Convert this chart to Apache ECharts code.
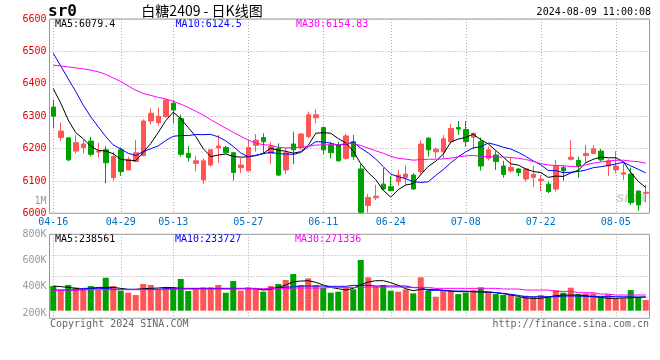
<!DOCTYPE html>
<html><head><meta charset="utf-8">
<script src="https://cdn.jsdelivr.net/npm/echarts@6/dist/echarts.min.js"></script>
<style>html,body{margin:0;padding:0;background:#fff}#c{width:660px;height:360px}</style>
</head><body><div id="c"></div>
<script>
const dates = ['04-16','04-17','04-18','04-19','04-22','04-23','04-24','04-25','04-26','04-29','04-30',
'05-06','05-07','05-08','05-09','05-10','05-13','05-14','05-15','05-16','05-17','05-20','05-21','05-22','05-23','05-24','05-27','05-28','05-29','05-30','05-31',
'06-03','06-04','06-05','06-06','06-07','06-11','06-12','06-13','06-14','06-17','06-18','06-19','06-20','06-21','06-24','06-25','06-26','06-27','06-28',
'07-01','07-02','07-03','07-04','07-05','07-08','07-09','07-10','07-11','07-12','07-15','07-16','07-17','07-18','07-19','07-22','07-23','07-24','07-25','07-26','07-29','07-30','07-31',
'08-01','08-02','08-05','08-06','08-07','08-08','08-09'];
const tickLabels = ['04-16','04-29','05-13','05-27','06-11','06-24','07-08','07-22','08-05'];

const open = [6328,6234,6233,6192,6203,6223,6189,6196,6110,6196,
6134,6160,6178,6285,6280,6298,6340,6293,6185,6154,
6103,6149,6202,6203,6187,6141,6131,6210,6234,6185,
6201,6134,6214,6203,6237,6295,6265,6211,6211,6170,
6221,6137,6024,6048,6090,6082,6098,6110,6118,6129,
6232,6190,6190,6221,6265,6259,6235,6221,6170,6180,
6146,6131,6137,6106,6111,6101,6090,6075,6141,6167,
6163,6178,6185,6192,6146,6134,6121,6121,6069,6062];
const close = [6300,6254,6165,6218,6214,6182,6192,6156,6175,6129,
6167,6187,6285,6309,6300,6350,6319,6182,6172,6162,
6162,6196,6208,6187,6126,6149,6203,6226,6221,6206,
6118,6187,6196,6245,6304,6304,6196,6187,6162,6239,
6175,6003,6049,6053,6075,6070,6118,6121,6075,6214,
6196,6198,6230,6262,6260,6222,6247,6146,6196,6160,
6120,6142,6126,6137,6120,6105,6067,6146,6131,6173,
6146,6185,6199,6165,6162,6146,6125,6033,6026,6065];
const low = [6262,6224,6161,6185,6185,6175,6172,6093,6101,6116,
6133,6158,6176,6275,6270,6296,6278,6175,6160,6129,
6090,6144,6156,6185,6101,6124,6130,6190,6185,6152,
6115,6121,6152,6196,6232,6278,6182,6170,6160,6165,
6165,6000,6002,6041,6071,6068,6085,6086,6072,6118,
6175,6170,6170,6216,6242,6206,6196,6132,6163,6134,
6110,6126,6115,6098,6082,6069,6062,6067,6101,6163,
6110,6156,6183,6160,6115,6124,6103,6026,6008,6034];
const high = [6350,6280,6234,6242,6226,6236,6218,6208,6190,6204,
6175,6226,6290,6324,6327,6352,6350,6304,6208,6178,
6170,6198,6242,6208,6188,6170,6226,6244,6247,6219,
6216,6201,6252,6247,6314,6321,6268,6221,6221,6245,
6242,6152,6060,6088,6140,6115,6134,6148,6124,6226,
6235,6204,6242,6276,6285,6285,6250,6234,6206,6192,
6162,6172,6139,6139,6146,6118,6098,6165,6149,6226,
6175,6211,6211,6199,6167,6192,6154,6141,6069,6088];

const ma5 = [6385,6340,6288,6249,6230.2,6206.6,6194.2,6192.4,6183.8,6166.8,
6163.8,6162.8,6188.6,6215.4,6249.6,6286.2,6312.6,6292,6264.6,6237,
6199.4,6174.8,6180,6183,6175.8,6173.2,6174.6,6178.2,6185,6201,
6194.8,6191.6,6185.6,6190.4,6210,6247.2,6249,6247.2,6230.6,6217.6,
6191.8,6153.2,6125.6,6103.8,6071,6050,6073,6087.4,6091.8,6119.6,
6144.8,6160.8,6182.6,6220,6229.2,6234.4,6244.2,6227.4,6214.2,6194.2,
6173.8,6152.8,6148.8,6137,6129,6126,6111,6115,6113.8,6124.4,
6132.6,6156.2,6166.8,6173.6,6171.4,6171.4,6159.4,6126.2,6098.4,6079.4];
const ma10 = [6494,6455,6415,6376,6334,6298,6267,6237,6211,6198.5,
6185.2,6178.5,6190.5,6199.6,6208.2,6225,6237.7,6240.3,6240,6243.3,
6242.8,6243.7,6236,6223.8,6206.4,6186.3,6174.7,6179.1,6184,6188.4,
6184,6183.1,6181.9,6187.7,6205.5,6221,6220.3,6216.4,6210.5,6213.8,
6219.5,6201.1,6186.4,6167.2,6144.3,6120.9,6113.1,6106.5,6097.8,6095.3,
6097.4,6116.9,6135,6155.9,6174.4,6189.6,6202.5,6205,6217.1,6211.7,
6204.1,6198.5,6188.1,6175.6,6161.6,6149.9,6131.9,6131.9,6125.4,6126.7,
6129.3,6133.6,6140.9,6143.7,6147.9,6152,6157.8,6146.5,6136,6124.5];
const ma30 = [6457,6455,6452,6449,6446,6442,6437,6429,6418,6407,
6393,6380,6370,6364,6358,6353,6346,6337,6327,6315,
6303,6289,6276,6263,6250,6238,6226,6217,6212,6210.1,
6204,6201.8,6202.8,6203.7,6206.7,6210.8,6210.9,6211.9,6211.5,6215.2,
6215.4,6209.3,6201.4,6192.9,6185.4,6176.1,6169.4,6167.3,6164.1,6165.8,
6167,6167,6167.8,6170.3,6174.7,6177.2,6178.6,6176,6175.1,6173.6,
6173.7,6172.2,6169.8,6166.2,6160.1,6153.5,6149.2,6147.8,6146.8,6144.6,
6143.6,6149.7,6154.7,6158.4,6161.3,6163.8,6164.1,6161.1,6159.5,6154.83];

const volume = [425,356,443,402,368,425,356,569,425,345,
310,270,460,443,368,402,402,546,339,385,
402,402,443,310,511,345,402,385,328,425,
460,529,632,443,557,443,397,310,328,402,
368,874,575,425,443,345,328,368,299,575,
345,241,345,345,287,310,356,402,310,287,
270,270,230,259,241,270,241,356,310,397,
287,299,299,241,282,213,213,356,230,184].map(v => v * 1000);
const volMa5 = [425,415,402,385,368,385,402,402,402,385,
368,368,379,385,391,402,397,385,385,385,
385,385,385,385,385,385,385,385,356,368,
402,443,500,511,517,489,443,402,379,356,
385,448,494,517,517,483,437,379,345,368,
368,368,351,339,328,328,328,322,316,310,
293,270,247,218,213,213,236,259,270,270,
270,259,241,230,213,213,218,224,230,238.561].map(v => v * 1000);
const volMa10 = [356,356,356,356,385,385,385,385,368,368,
368,368,368,368,368,379,379,379,379,379,
379,379,379,379,379,379,379,379,368,391,
391,408,408,425,425,425,425,420,420,420,
437,437,437,425,425,425,425,425,397,397,
351,351,351,339,339,339,328,328,328,310,
299,282,264,241,241,241,241,241,253,253,
253,247,247,247,247,241,241,238,236,233.727].map(v => v * 1000);
const volMa30 = [345,356,356,356,356,362,362,362,362,362,
362,362,362,362,362,362,374,374,374,374,
374,374,374,374,374,379,379,379,379,379,
379,379,391,391,391,391,391,402,402,402,
402,402,408,408,408,408,408,402,402,402,
402,385,385,385,385,385,385,385,385,385,
374,374,374,356,356,356,356,333,333,333,
310,310,310,287,287,270,270,270,270,271.336].map(v => v * 1000);

const priceTicks = {min: 6000, max: 6600, step: 100};
const volTickLabels = [200000, 400000, 600000, 800000];
const maTexts = ['MA5:6079.4', 'MA10:6124.5', 'MA30:6154.83'];
const volMaTexts = ['MA5:238561', 'MA10:233727', 'MA30:271336'];

const RED = '#FF5555', GREEN = '#00A000';
const MONO = '"DejaVu Sans Mono", monospace';
const dotted = {color: '#aaa', width: 1, type: [1, 2]};
const showTick = (i, v) => tickLabels.indexOf(v) >= 0;

const chart = echarts.init(document.getElementById('c'), null, {renderer: 'canvas'});
const gridBase = {left: 49.5, right: 10.5, show: true, borderColor: '#999', borderWidth: 1, containLabel: false, outerBoundsMode: 'none'};

function mkLine(name, data, color, xi, yi) {
  return {name, type: 'line', data, xAxisIndex: xi, yAxisIndex: yi, symbol: 'none', silent: true,
    lineStyle: {color, width: 1}, itemStyle: {color}, z: 5, animation: false};
}

chart.setOption({
  animation: false,
  backgroundColor: '#fff',
  grid: [
    Object.assign({top: 19, height: 194.3}, gridBase),
    Object.assign({top: 234.3, height: 84}, gridBase)
  ],
  xAxis: [
    {type: 'category', gridIndex: 0, data: dates, boundaryGap: true,
     axisLine: {show: false}, axisTick: {show: false},
     axisLabel: {interval: showTick, color: '#0070C0', fontFamily: MONO, fontSize: 10, margin: 4},
     splitLine: {show: true, interval: showTick, alignWithLabel: true, lineStyle: dotted}},
    {type: 'category', gridIndex: 1, data: dates, boundaryGap: true,
     axisLine: {show: false}, axisTick: {show: false}, axisLabel: {show: false},
     splitLine: {show: true, interval: showTick, alignWithLabel: true, lineStyle: dotted}}
  ],
  yAxis: [
    {type: 'value', gridIndex: 0, position: 'left', min: priceTicks.min, max: priceTicks.max, interval: priceTicks.step,
     axisLine: {show: false}, axisTick: {show: false},
     axisLabel: {formatter: v => String(v), color: '#E00000', fontFamily: MONO, fontSize: 10, margin: 3, padding: [0, 0, 4, 0]},
     splitLine: {show: true, lineStyle: dotted}},
    {type: 'value', gridIndex: 1, position: 'right', min: 0, max: 4, interval: 1,
     axisLine: {show: false}, axisTick: {show: false}, axisLabel: {show: false},
     splitLine: {show: true, lineStyle: dotted}},
    {type: 'value', gridIndex: 1, position: 'left', offset: 0, min: 160000, max: 800000,
     axisLine: {show: false}, axisTick: {show: false}, splitLine: {show: false},
     axisLabel: {customValues: volTickLabels, showMinLabel: true, showMaxLabel: true,
       formatter: v => (v / 1000) + 'K', color: '#999', fontFamily: MONO, fontSize: 10, margin: 3}},
    {type: 'value', gridIndex: 1, min: -131000, max: 1317000, show: false}
  ],
  series: [
    {type: 'candlestick', xAxisIndex: 0, yAxisIndex: 0, barWidth: 5, silent: true,
     data: dates.map((d, i) => [open[i], close[i], low[i], high[i]]),
     itemStyle: {color: RED, color0: GREEN, borderColor: RED, borderColor0: GREEN, borderWidth: 1}},
    mkLine('MA5', ma5, '#000000', 0, 0),
    mkLine('MA10', ma10, '#0000FF', 0, 0),
    mkLine('MA30', ma30, '#FF00FF', 0, 0),
    {type: 'bar', xAxisIndex: 1, yAxisIndex: 3, barWidth: 6, silent: true,
     data: volume.map((v, i) => ({value: v, itemStyle: {color: close[i] >= open[i] ? RED : GREEN}}))},
    mkLine('VMA5', volMa5, '#000000', 1, 3),
    mkLine('VMA10', volMa10, '#0000FF', 1, 3),
    mkLine('VMA30', volMa30, '#FF00FF', 1, 3)
  ],
  graphic: [
    {type: 'text', left: 48, top: 4, style: {text: 'sr0', font: 'bold 16px ' + MONO, fill: '#000'}},
    {type: 'text', x: 202, y: 11, style: {text: '白糖2409 - 日K线图', font: '14px "Noto Sans CJK SC"', fill: '#000', textAlign: 'center', textVerticalAlign: 'middle'}},
    {type: 'text', x: 651, y: 12, style: {text: '2024-08-09 11:00:08', font: '10px ' + MONO, fill: '#000', textAlign: 'right', textVerticalAlign: 'middle'}},
    {type: 'text', x: 55, y: 24, style: {text: maTexts[0], font: '10px ' + MONO, fill: '#000', textVerticalAlign: 'middle'}},
    {type: 'text', x: 175.6, y: 24, style: {text: maTexts[1], font: '10px ' + MONO, fill: '#0000FF', textVerticalAlign: 'middle'}},
    {type: 'text', x: 296, y: 24, style: {text: maTexts[2], font: '10px ' + MONO, fill: '#FF00FF', textVerticalAlign: 'middle'}},
    {type: 'text', x: 55, y: 239, style: {text: volMaTexts[0], font: '10px ' + MONO, fill: '#000', textVerticalAlign: 'middle'}},
    {type: 'text', x: 175, y: 239, style: {text: volMaTexts[1], font: '10px ' + MONO, fill: '#0000FF', textVerticalAlign: 'middle'}},
    {type: 'text', x: 295, y: 239, style: {text: volMaTexts[2], font: '10px ' + MONO, fill: '#FF00FF', textVerticalAlign: 'middle'}},
    {type: 'text', x: 46.5, y: 201, style: {text: '1M', font: '10px ' + MONO, fill: '#999', textAlign: 'right', textVerticalAlign: 'middle'}},
    {type: 'text', x: 50, y: 324, style: {text: 'Copyright 2024 SINA.COM', font: '10px ' + MONO, fill: '#666', textVerticalAlign: 'middle'}},
    {type: 'text', x: 649, y: 324, style: {text: 'http://finance.sina.com.cn', font: '10px ' + MONO, fill: '#666', textAlign: 'right', textVerticalAlign: 'middle'}},
    {type: 'text', x: 646, y: 198, z: -1, style: {text: 'sina', font: 'italic bold 15px "Liberation Sans"', fill: 'rgba(150,150,150,0.45)', textAlign: 'right', textVerticalAlign: 'middle'}}
  ]
});
</script></body></html>
